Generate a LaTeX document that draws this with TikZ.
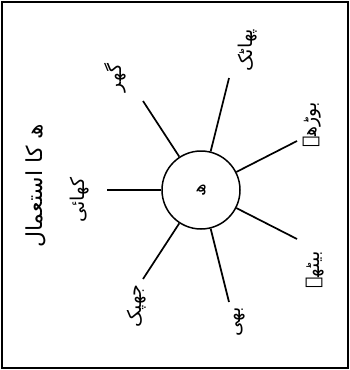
\documentclass[tikz,border=0pt]{standalone}
\usepackage{fontspec}
\newfontfamily\urdu[Script=Arabic]{DejaVu Sans}
\TeXXeTstate=1
\newcommand{\ur}[1]{\urdu\beginR #1\endR}
\begin{document}
\begin{tikzpicture}[x=1pt,y=-1pt,
  lbl/.style={rotate=90, inner sep=1pt, font=\fontsize{19}{22}\selectfont},
  spoke/.style={line width=1.7pt},
  hub/.style={circle, draw, line width=1.5pt, minimum size=78pt, inner sep=0pt, rotate=90, font=\fontsize{18}{20}\selectfont}]
\useasboundingbox (0,0) rectangle (350,370);
\draw[line width=1.8pt] (2,2) rectangle (348,368);
\node[lbl, font=\fontsize{22}{26}\selectfont] (title) at (36,186) {\ur{ھ کا استعمال}};
\node[hub] (c) at (201,190) {\ur{ھ}};
\node[lbl] (l1) at (80,200) {\ur{کھائی}};
\node[lbl] (l2) at (115,78) {\ur{گھر}};
\node[lbl] (l3) at (248,50) {\ur{پھاٹک}};
\node[lbl] (l4) at (312,125) {\ur{بوڑھے}};
\node[lbl] (l5) at (315,270) {\ur{بیٹھے}};
\node[lbl] (l6) at (240,322) {\ur{بھی}};
\node[lbl] (l7) at (137,306) {\ur{جھپک}};
\coordinate (e1) at (107,190);
\coordinate (e2) at (143,101);
\coordinate (e3) at (229,78);
\coordinate (e4) at (297,141);
\coordinate (e5) at (297,239);
\coordinate (e6) at (229,302);
\coordinate (e7) at (143,279);
\foreach \e in {e1,e2,e3,e4,e5,e6,e7} \draw[spoke] (c) -- (\e);
\end{tikzpicture}
\end{document}
